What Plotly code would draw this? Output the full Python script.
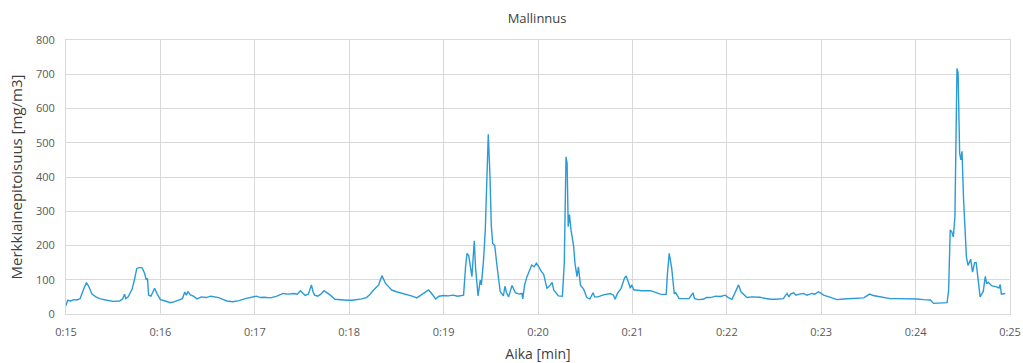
import plotly.graph_objects as go

# Elapsed seconds from 0:15:00 and tracer concentration [mg/m3]
seconds = [
    0, 1, 3, 5, 7, 9, 11, 13, 14.5, 16.5, 19, 22, 26, 30, 34, 36, 37.2, 38, 39.5, 41,
    42, 43.5, 45, 47, 48.5, 50, 51, 51.8, 52.5, 54, 56.3, 58, 60, 63, 66.3, 69, 71.6, 74, 75.5, 76.5,
    77.5, 79, 81, 83.3, 86, 89, 92, 94, 97, 100, 102.3, 106, 110, 114, 118, 121, 123.5, 126, 130, 134,
    138, 141, 145, 147, 149, 151, 152, 154, 156, 157, 158, 160, 162, 164, 166, 168, 171, 175, 178.6, 182,
    185, 188, 191, 193, 194.5, 195.5, 197, 198.7, 200.8, 202, 203, 205, 207, 210, 212.5, 215, 216.7, 220, 223, 226,
    228.4, 230.5, 232, 235, 237, 240, 243, 246, 249, 252.7, 254, 254.9, 256, 258, 259.5, 260.3, 261.9, 263.3, 264, 265.4,
    266.5, 268.4, 269.5, 270.3, 271.2, 272.5, 274, 276, 278, 279, 280, 281.3, 283.5, 285.6, 288, 289.8, 290.3, 291.5, 293, 295,
    296, 297.5, 299, 300.5, 302, 303.6, 305.7, 307, 309, 310, 313, 315.5, 316.7, 317.8, 318.5, 319.2, 320, 321, 322.7, 323.5,
    324.8, 325.7, 327, 329, 331, 333, 335, 336, 338, 341.7, 344, 346, 348, 349, 350.5, 352.8, 355, 356, 357.5, 358.7,
    359.5, 361, 362, 366, 371.5, 375, 377.8, 380.5, 381.5, 382.2, 383.4, 385, 386.6, 387.5, 389.7, 393, 396, 398.5, 399.5, 402,
    405, 407, 409.5, 413, 416, 419, 421, 423.3, 425.4, 427.5, 429, 431, 432.8, 436, 441, 444, 447.6, 451, 454, 456,
    457, 458.3, 459.5, 460.5, 462.5, 464, 466, 468.8, 471, 474, 476, 478.3, 480, 481.5, 485, 490, 494, 498.5, 503, 507,
    510.8, 513, 515.5, 520, 524, 528, 532.4, 537, 541, 545, 549.4, 551.4, 555, 560, 561, 562, 563, 564, 565, 566.3,
    567, 568, 568.8, 569.5, 570.5, 572.3, 573.3, 575, 576.2, 577.5, 578.5, 580, 581, 582, 583, 584.3, 585.2, 586.2, 588.5, 591,
    593, 593.8, 594.5, 597,
]
concentration = [
    24, 40, 38, 42, 41, 45, 70, 92, 80, 58, 50, 44, 40, 37, 38, 44, 58, 45, 50, 65,
    72, 100, 133, 136, 134, 118, 100, 104, 55, 52, 75, 58, 42, 38, 33, 36, 40, 45, 64, 55,
    66, 56, 52, 44, 50, 48, 52, 51, 48, 42, 38, 36, 39, 45, 50, 52, 48, 49, 47, 52,
    60, 58, 60, 58, 68, 60, 54, 58, 85, 65, 55, 52, 58, 68, 62, 55, 43, 41, 40, 40,
    41, 44, 48, 56, 65, 70, 78, 85, 112, 98, 90, 80, 70, 65, 62, 60, 58, 52, 47, 56,
    65, 70, 62, 44, 52, 54, 53, 55, 52, 55, 140, 177, 170, 109, 214, 135, 53, 99, 85, 158,
    245, 525, 400, 260, 206, 200, 138, 65, 53, 81, 62, 50, 83, 62, 58, 60, 44, 85, 109, 130,
    143, 138, 148, 138, 125, 116, 75, 80, 92, 70, 53, 52, 148, 459, 440, 255, 290, 245, 196, 148,
    109, 138, 84, 73, 48, 44, 62, 50, 50, 56, 58, 60, 55, 43, 60, 75, 105, 111, 92, 75,
    85, 70, 70, 68, 68, 62, 58, 57, 58, 114, 177, 133, 60, 62, 45, 45, 45, 62, 45, 42,
    43, 48, 48, 52, 51, 55, 48, 43, 62, 85, 65, 55, 48, 50, 49, 46, 43, 43, 44, 45,
    52, 60, 50, 58, 62, 55, 58, 60, 55, 60, 58, 65, 60, 55, 50, 42, 44, 45, 46, 47,
    58, 54, 52, 48, 45, 45, 45, 44, 44, 42, 41, 31, 31, 33, 70, 245, 240, 225, 284, 717,
    705, 469, 450, 475, 333, 167, 142, 160, 122, 150, 150, 88, 50, 58, 66, 110, 88, 93, 82, 80,
    76, 86, 58, 60,
]

tick_minutes = [15, 16, 17, 18, 19, 20, 21, 22, 23, 24, 25]
tick_labels = ["0:15", "0:16", "0:17", "0:18", "0:19", "0:20", "0:21", "0:22", "0:23", "0:24", "0:25"]

minutes = [15 + s / 60 for s in seconds]

fig = go.Figure()
fig.add_trace(go.Scatter(
    x=minutes, y=concentration, mode="lines",
    line=dict(color="#2A9BD7", width=1.4),
    hoverinfo="skip", showlegend=False,
))

font_family = "Open Sans, Lato, DejaVu Sans, sans-serif"
grid = "#D9D9D9"

fig.update_layout(
    width=1023, height=363,
    margin=dict(l=66, r=13, t=40, b=49, autoexpand=False),
    paper_bgcolor="white", plot_bgcolor="white",
    font=dict(family=font_family, color="#404040"),
    title=dict(text="Mallinnus", x=0.525, xanchor="center", y=0.95, yanchor="middle",
               font=dict(size=13, color="#404040", family=font_family)),
)
fig.update_xaxes(
    range=[15, 25], tickvals=tick_minutes, ticktext=tick_labels,
    showgrid=True, gridcolor=grid, gridwidth=1,
    showline=True, linecolor=grid, mirror=True,
    zeroline=False, ticks="", ticklen=0, automargin=False,
    ticklabelstandoff=8,
    tickfont=dict(size=11, color="#595959"),
    title=dict(text="Aika [min]", font=dict(size=14, color="#404040"), standoff=12),
)
fig.update_yaxes(
    range=[0, 800], dtick=100,
    showgrid=True, gridcolor=grid, gridwidth=1,
    showline=True, linecolor=grid, mirror=True,
    zeroline=False, ticks="", automargin=False,
    ticklabelstandoff=8,
    tickfont=dict(size=11, color="#595959"),
    title=dict(text="Merkkiainepitoisuus [mg/m3]", font=dict(size=15, color="#404040"), standoff=9),
)

fig.write_html("out.html")
